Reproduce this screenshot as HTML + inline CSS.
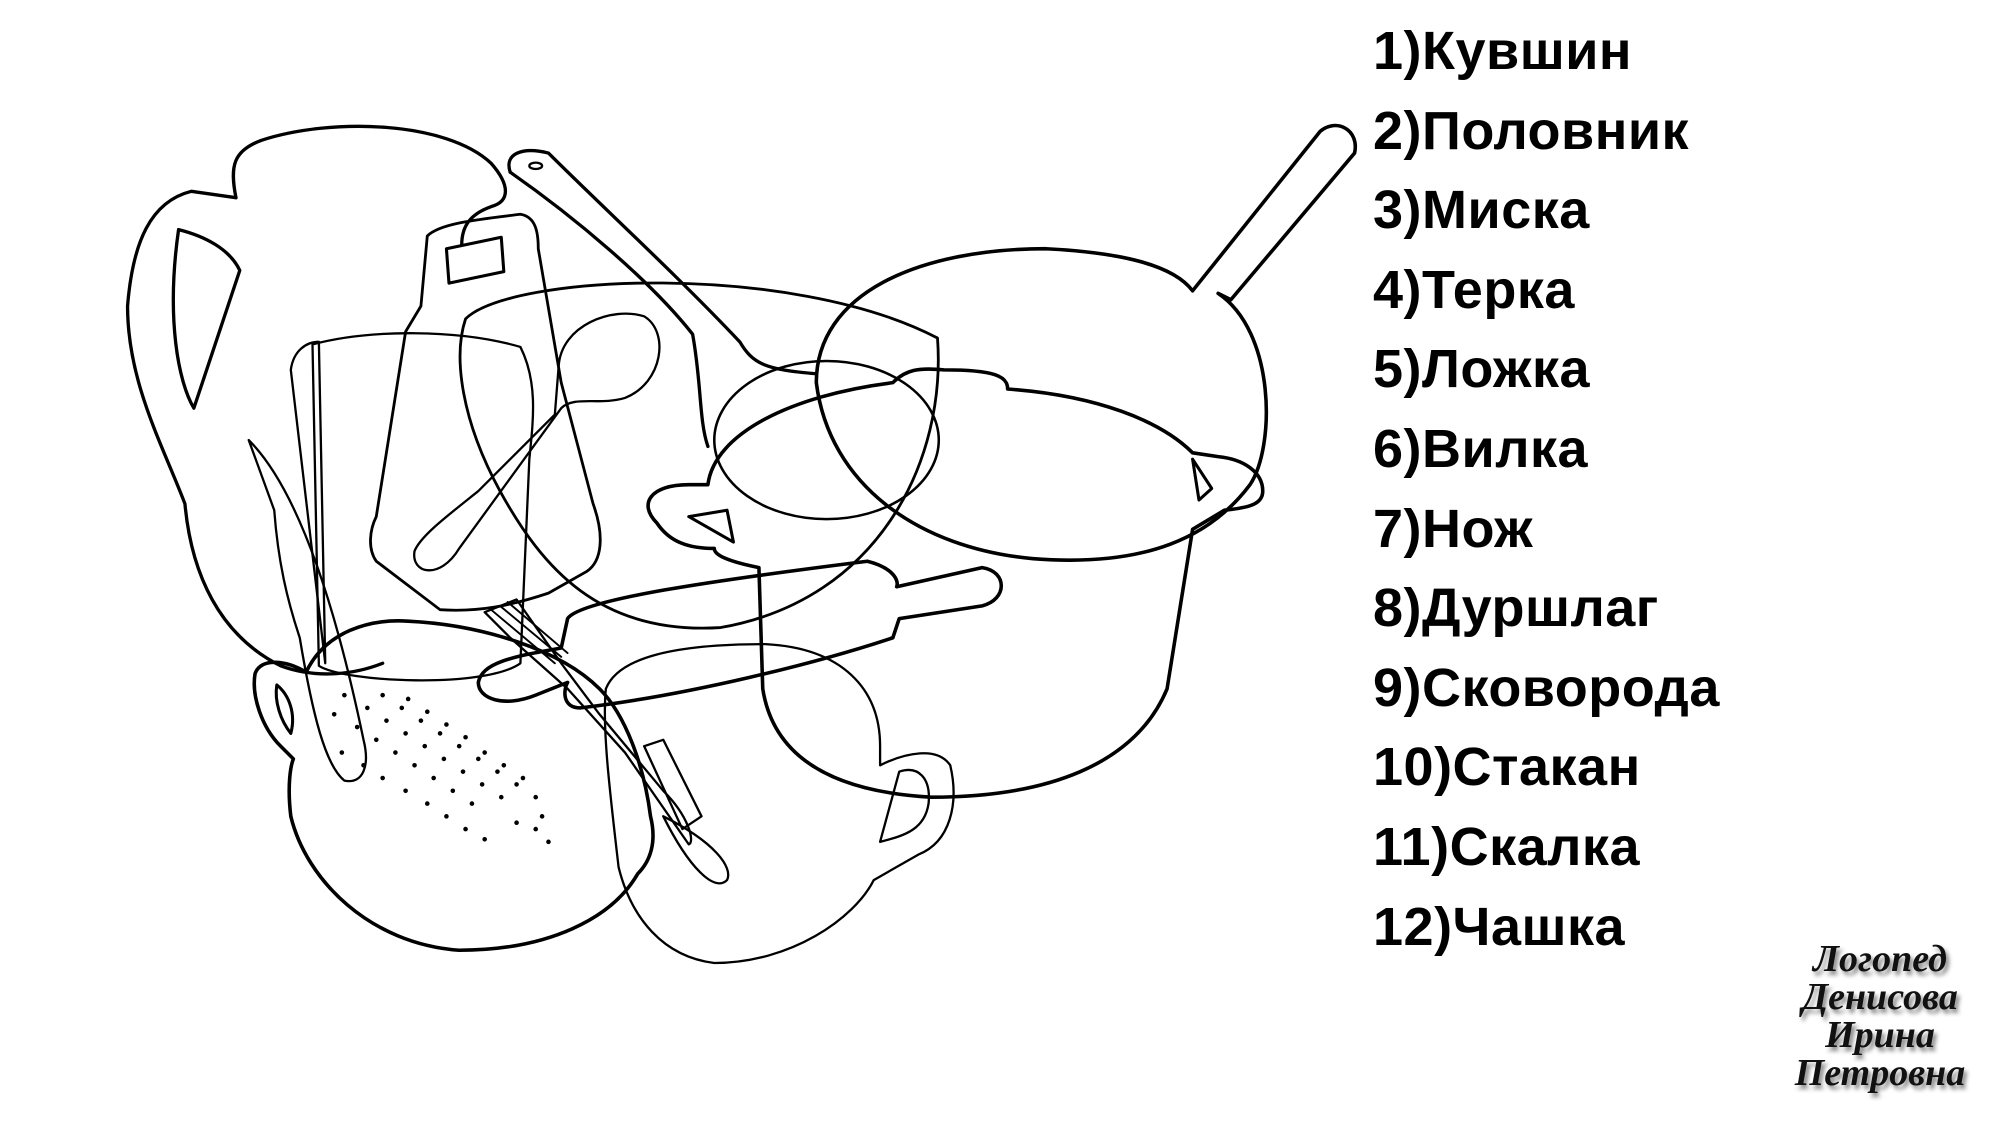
<!DOCTYPE html>
<html><head><meta charset="utf-8"><style>
html,body{margin:0;padding:0;background:#fff;}
body{width:2000px;height:1125px;position:relative;overflow:hidden;}
svg{position:absolute;left:0;top:0;}
.list{position:absolute;left:1373px;top:12px;font-family:"Liberation Sans","DejaVu Sans",sans-serif;font-weight:bold;font-size:54px;line-height:79.6px;color:#000;letter-spacing:0.5px;}
.sig{position:absolute;left:1770px;top:940px;width:220px;text-align:center;font-family:"Liberation Serif",serif;font-style:italic;font-weight:bold;font-size:38px;line-height:38px;color:#111;text-shadow:3px 4px 4px #888;}
</style></head><body>
<svg width="2000" height="1125" viewBox="0 0 2000 1125">
<g transform="scale(1.2755)" fill="none" stroke="#000" stroke-width="2.6" stroke-linejoin="round" stroke-linecap="round">
<!-- jug -->
<path d="M185,155 C180,130 183,118 205,110 C260,92 350,95 385,128 C400,145 400,158 385,162 C368,168 362,178 362,192"/>
<path d="M185,155 L150,150 C118,158 104,190 100,240 C100,300 128,350 145,395 C150,450 172,498 220,522 C250,533 280,528 300,520"/>
<path d="M140,180 C160,185 180,195 188,212 L152,320 C140,300 130,250 140,180 Z"/>
<!-- ladle -->
<path d="M400,135 C395,120 410,115 430,120 C470,160 530,215 580,268 C590,285 600,290 640,293"/>
<path d="M400,135 C450,170 510,220 543,262 C550,300 548,330 555,350"/>
<ellipse cx="420" cy="130" rx="5" ry="2.5" stroke-width="1.8"/>
<ellipse cx="648" cy="345" rx="88" ry="62" stroke-width="2"/>
<!-- frying pan -->
<path d="M955,230 C1000,260 1000,350 980,380 C950,420 900,445 810,438 C720,430 650,380 640,300 C640,230 720,195 820,195 C880,198 920,208 935,228 L1035,103 C1048,92 1066,102 1062,120 L965,235 Z" stroke-width="2.8"/>
<!-- bowl -->
<path d="M365,250 C400,215 620,205 735,265 C742,360 690,470 565,492 C470,498 425,445 392,385 C362,330 355,280 365,250 Z" stroke-width="2.2"/>
<!-- grater -->
<path d="M335,185 C345,175 375,172 408,168 C420,170 422,182 422,195 L440,300 L465,395 C474,420 472,440 460,448 L430,465 C400,475 375,480 345,478 L295,440 C288,430 290,415 295,405 L318,260 L330,240 Z" stroke-width="2.2"/>
<path d="M350,195 L393,186 L395,213 L352,222 Z" stroke-width="2.4"/>
<!-- spoon -->
<path d="M438,287 C440,255 480,240 505,248 C525,260 520,300 490,312 C470,318 450,310 440,320 L360,430 C345,455 322,450 325,432 C330,420 350,405 375,385 L435,325 Z" stroke-width="1.8"/>
<!-- glass -->
<path d="M245,270 C290,258 360,258 408,272 C422,300 418,330 415,360 L408,520 C380,540 270,535 250,522 Z" stroke-width="1.8"/>
<path d="M228,290 C230,275 240,268 250,268 L255,520 Z" stroke-width="1.8"/>
<!-- knife -->
<path d="M195,345 C230,380 260,460 285,580 C290,600 285,615 270,612 C255,600 245,560 235,500 C225,470 218,440 215,400 L195,345 Z" stroke-width="1.8"/>
<!-- colander -->
<path d="M240,527 C255,495 290,485 320,487 C380,490 440,510 470,540 C490,560 505,600 510,640 C515,660 510,675 500,685 C480,720 430,745 360,745 C290,740 240,690 228,640 C225,615 228,600 230,595 L220,585 C205,570 197,545 200,528 C205,515 225,518 240,527 Z" stroke-width="2.8"/>
<path d="M217,537 C227,545 232,560 228,575 C220,565 215,550 217,537 Z" stroke-width="2.4"/>
<g fill="#000" stroke="none">
<circle cx="262" cy="560" r="1.8"/><circle cx="280" cy="570" r="1.8"/><circle cx="295" cy="580" r="1.8"/><circle cx="310" cy="590" r="1.8"/><circle cx="325" cy="600" r="1.8"/><circle cx="340" cy="610" r="1.8"/><circle cx="355" cy="620" r="1.8"/><circle cx="370" cy="630" r="1.8"/>
<circle cx="270" cy="545" r="1.8"/><circle cx="288" cy="555" r="1.8"/><circle cx="303" cy="565" r="1.8"/><circle cx="318" cy="575" r="1.8"/><circle cx="333" cy="585" r="1.8"/><circle cx="348" cy="595" r="1.8"/><circle cx="363" cy="605" r="1.8"/><circle cx="378" cy="615" r="1.8"/><circle cx="393" cy="625" r="1.8"/>
<circle cx="300" cy="545" r="1.8"/><circle cx="315" cy="555" r="1.8"/><circle cx="330" cy="565" r="1.8"/><circle cx="345" cy="575" r="1.8"/><circle cx="360" cy="585" r="1.8"/><circle cx="375" cy="595" r="1.8"/><circle cx="390" cy="605" r="1.8"/><circle cx="405" cy="615" r="1.8"/><circle cx="420" cy="625" r="1.8"/>
<circle cx="268" cy="590" r="1.8"/><circle cx="285" cy="600" r="1.8"/><circle cx="300" cy="610" r="1.8"/><circle cx="318" cy="620" r="1.8"/><circle cx="335" cy="630" r="1.8"/><circle cx="350" cy="640" r="1.8"/><circle cx="365" cy="650" r="1.8"/><circle cx="380" cy="658" r="1.8"/>
<circle cx="320" cy="548" r="1.8"/><circle cx="335" cy="558" r="1.8"/><circle cx="350" cy="568" r="1.8"/><circle cx="365" cy="578" r="1.8"/><circle cx="380" cy="590" r="1.8"/><circle cx="395" cy="600" r="1.8"/><circle cx="410" cy="610" r="1.8"/><circle cx="425" cy="640" r="1.8"/><circle cx="430" cy="660" r="1.8"/><circle cx="420" cy="650" r="1.8"/><circle cx="405" cy="645" r="1.8"/>
</g>
<!-- fork -->
<path d="M380,480 L405,470 L440,520 L470,560 L520,620 C540,640 545,660 540,662 L490,590 L445,540 L400,500 Z" stroke-width="1.8"/>
<path d="M385,478 L435,520 M392,475 L440,515 M398,472 L445,512" stroke-width="1.5"/>
<path d="M505,585 L520,580 L550,640 L535,650 Z M520,640 C560,660 575,680 570,690 C560,700 540,680 520,640" stroke-width="1.8"/>
<!-- rolling pin -->
<path d="M445,485 C455,470 560,455 680,440 C700,445 705,455 703,460 L770,445 C790,448 790,470 770,475 L705,485 L700,500 C640,520 540,545 455,555 C440,555 442,540 445,535 L420,545 C395,555 375,548 375,535 C378,520 400,515 440,508 Z" stroke-width="2.8"/>
<!-- cup -->
<path d="M475,540 C485,515 530,505 600,505 C660,508 690,540 690,585 L690,600 C710,590 735,585 745,600 C752,630 745,660 720,670 L685,690 C670,720 620,755 560,755 C520,750 495,720 485,680 C478,620 472,570 475,540 Z" stroke-width="1.8"/>
<path d="M705,605 C720,600 730,610 728,630 C725,650 710,655 690,660 Z" stroke-width="1.8"/>
<!-- pot -->
<path d="M555,380 C560,340 620,310 700,300 C710,290 720,288 740,290 C780,290 790,295 790,305 C860,310 910,330 935,355 L955,358 C975,360 990,370 990,385 C990,395 980,398 960,400 L935,415 L915,540 C890,600 820,625 730,625 C640,620 605,585 598,540 L595,445 C570,440 560,435 560,430 C540,430 525,425 515,410 C500,395 510,380 540,380 Z" stroke-width="2.8"/>
<path d="M540,405 L570,400 L575,425 Z" stroke-width="2.4"/>
<path d="M935,360 L950,383 L940,392 Z" stroke-width="2.4"/>
</g>
</svg>
<div class="list">1)Кувшин<br>2)Половник<br>3)Миска<br>4)Терка<br>5)Ложка<br>6)Вилка<br>7)Нож<br>8)Дуршлаг<br>9)Сковорода<br>10)Стакан<br>11)Скалка<br>12)Чашка</div>
<div class="sig">Логопед<br>Денисова<br>Ирина<br>Петровна</div>
</body></html>
